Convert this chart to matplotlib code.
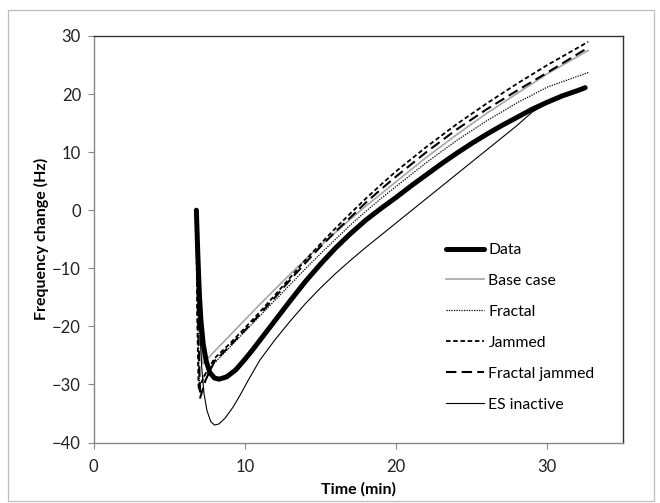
import matplotlib
matplotlib.use("Agg")
import matplotlib.pyplot as plt
from matplotlib.patches import Rectangle

plt.rcParams['font.family'] = ['Lato', 'DejaVu Sans']

# ---- data ----
t_data = [6.8, 6.9, 7.0, 7.1, 7.25, 7.45, 7.7, 8.0, 8.3, 8.8, 9.4, 10.0, 10.5, 11, 12, 13, 14,
          15, 16, 17, 18, 19, 20, 21, 22, 23, 24, 25, 26, 27, 28, 29, 30, 31, 32, 32.5]
y_data = [0, -8, -14.5, -19, -23, -26, -28, -28.9, -29.1, -28.7, -27.5, -25.7, -24.1, -22.4,
          -19.0, -15.6, -12.3, -9.3, -6.5, -4.0, -1.7, 0.3, 2.2, 4.2, 6.1, 8.0, 9.8, 11.5,
          13.1, 14.6, 16.0, 17.4, 18.6, 19.7, 20.6, 21.1]

t_base = [6.8, 6.95, 7.2, 7.6, 8, 9, 10, 11, 12, 13, 14, 15, 16, 17, 18, 19, 20, 22, 24, 26,
          28, 30, 32.7]
y_base = [0, -18, -26.5, -25.4, -24.3, -21.6, -18.9, -16.2, -13.6, -11.0, -8.5, -6.1, -3.8,
          -1.5, 0.7, 2.8, 4.9, 9.1, 13.0, 16.7, 20.1, 23.5, 27.5]

t_fractal = [6.8, 6.9, 7.0, 7.3, 8, 9, 10, 11, 12, 13, 14, 15, 16, 17, 18, 19, 20, 22, 24,
             26, 28, 30, 32.7]
y_fractal = [0, -18, -30.0, -28.7, -26.3, -23.6, -20.9, -18.2, -15.5, -12.8, -10.1, -7.5,
             -5.0, -2.5, -0.2, 2.0, 4.1, 8.2, 12.0, 15.4, 18.5, 21.2, 23.7]

t_jammed = [6.8, 6.85, 6.95, 7.3, 8, 9, 10, 11, 12, 13, 14, 15, 16, 17, 18, 19, 20, 22, 24,
            26, 28, 30, 32.7]
y_jammed = [0, -18, -31.0, -28.6, -25.5, -23.0, -20.3, -17.5, -14.6, -11.6, -8.6, -5.8, -3.1,
            -0.5, 2.0, 4.4, 6.7, 10.9, 14.8, 18.4, 21.8, 25.0, 29.0]

t_fjam = [6.8, 6.9, 7.05, 7.4, 8, 9, 10, 11, 12, 13, 14, 15, 16, 17, 18, 19, 20, 22, 24, 26,
          28, 30, 32.7]
y_fjam = [0, -18, -32.3, -29.3, -26.0, -23.4, -20.7, -17.9, -15.0, -12.0, -9.1, -6.3, -3.7,
          -1.2, 1.3, 3.6, 5.8, 10.0, 13.9, 17.4, 20.6, 23.7, 28.0]

t_es = [6.8, 6.9, 7.0, 7.15, 7.3, 7.5, 7.75, 8.0, 8.3, 8.7, 9.2, 9.7, 10.2, 11, 12, 13, 14,
        15, 16, 17, 18, 20, 22, 24, 26, 28, 29, 30, 31, 32.4]
y_es = [0, -10, -19, -27, -31.5, -34.5, -36.4, -37.0, -36.8, -35.8, -34.0, -31.8, -29.4,
        -25.8, -22.3, -19.1, -16.1, -13.4, -10.9, -8.6, -6.4, -2.2, 2.0, 6.2, 10.4, 14.6,
        16.9, 18.4, 19.5, 20.8]

labels = ['Data', 'Base case', 'Fractal', 'Jammed', 'Fractal jammed', 'ES inactive']
x_ticks = [0, 10, 20, 30]
y_ticks = [-40, -30, -20, -10, 0, 10, 20, 30]

W, H = 660, 503
fig = plt.figure(figsize=(W / 100, H / 100), dpi=100)
fig.patches.append(Rectangle((8 / W, 1 - 501 / H), 646 / W, 491 / H, transform=fig.transFigure,
                             fill=False, edgecolor='#bdbdbd', linewidth=0.9))
ax = fig.add_axes([93.5 / W, 1 - 442.5 / H, (623 - 93.5) / W, (442.5 - 36) / H])

ax.plot(t_base, y_base, color='#a6a6a6', lw=1.2, label=labels[1], zorder=2)
ax.plot(t_fractal, y_fractal, color='black', lw=0.9, ls=(0, (1, 1)), label=labels[2], zorder=3)
ax.plot(t_jammed, y_jammed, color='black', lw=1.3, ls=(0, (2.5, 1.5)), label=labels[3], zorder=3)
ax.plot(t_fjam, y_fjam, color='black', lw=1.5, ls=(0, (5, 2.5)), label=labels[4], zorder=3)
ax.plot(t_es, y_es, color='black', lw=0.8, label=labels[5], zorder=3)
ax.plot(t_data, y_data, color='black', lw=3.6, label=labels[0], zorder=4,
        solid_capstyle='round', solid_joinstyle='round')

ax.set_xlim(0, 35)
ax.set_ylim(-40, 30)
ax.set_xticks(x_ticks)
ax.set_yticks(y_ticks)
ax.tick_params(axis='both', direction='out', length=4, width=0.8, color='#868686',
               labelsize=12, labelcolor='#222222', pad=5)
ax.tick_params(axis='x', pad=8)
for s in ['left', 'bottom']:
    ax.spines[s].set_color('#868686')
    ax.spines[s].set_linewidth(1.0)
for s in ['top', 'right']:
    ax.spines[s].set_color('#333333')
    ax.spines[s].set_linewidth(1.0)

ax.set_xlabel('Time (min)', fontsize=11.5, fontweight='bold', labelpad=5)
ax.set_ylabel('Frequency change (Hz)', fontsize=11.5, fontweight='bold', labelpad=2)

h, l = ax.get_legend_handles_labels()
order = [l.index(x) for x in labels]
ax.legend([h[i] for i in order], [l[i] for i in order], loc='upper left',
          bbox_to_anchor=((446 - 93.5) / (623 - 93.5), (442.5 - 243) / (442.5 - 36)),
          frameon=False, fontsize=11.3, handlelength=2.4, handletextpad=0.3,
          labelspacing=1.08, borderpad=0, borderaxespad=0)

fig.savefig('out.png', dpi=100)
